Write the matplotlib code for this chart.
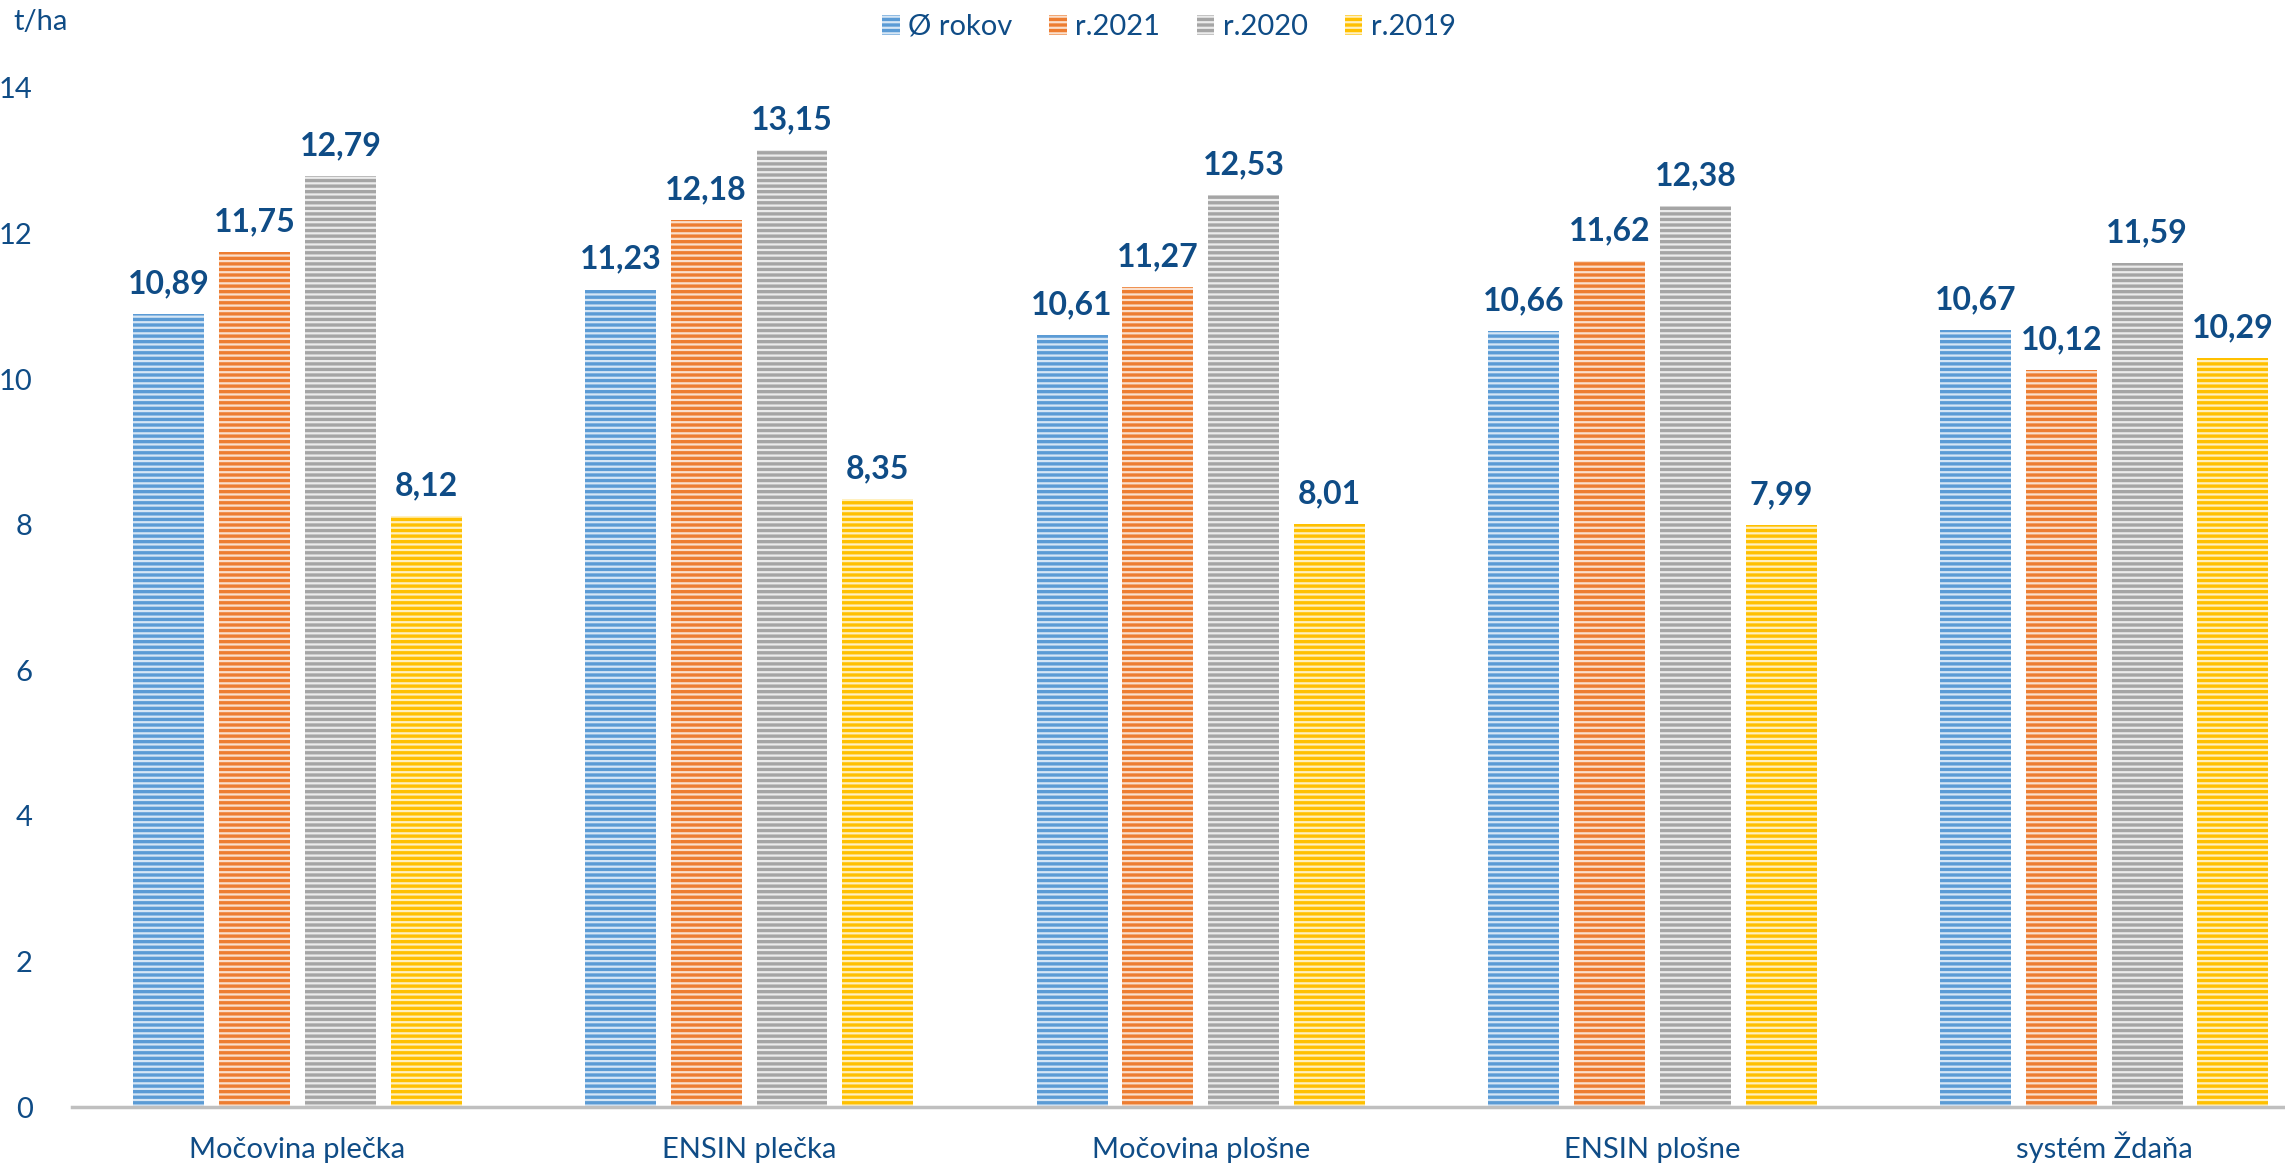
import numpy as np
import matplotlib.pyplot as plt

plt.rcParams['font.family'] = ['Lato', 'DejaVu Sans']
plt.rcParams['hatch.linewidth'] = 2.4

categories = ['Močovina plečka', 'ENSIN plečka', 'Močovina plošne', 'ENSIN plošne', 'systém Ždaňa']
series_names = ['Ø rokov', 'r.2021', 'r.2020', 'r.2019']
avg_years = [10.89, 11.23, 10.61, 10.66, 10.67]
y2021 = [11.75, 12.18, 11.27, 11.62, 10.12]
y2020 = [12.79, 13.15, 12.53, 12.38, 11.59]
y2019 = [8.12, 8.35, 8.01, 7.99, 10.29]
yticks = [0, 2, 4, 6, 8, 10, 12, 14]

colors = ['#5B9BD5', '#ED7D31', '#A5A5A5', '#FFC000']
lights = ['#D6E6F5', '#FADFCC', '#EBEBEB', '#FFF0BF']
txt = '#0F4C86'

fig = plt.figure(figsize=(22.85, 11.65), dpi=100)
ax = fig.add_axes([71.6 / 2285, 58 / 1165, (2285 - 71.6) / 2285, (1107 - 88) / 1165])

x = np.arange(len(categories))
width = 0.157
pitch = 0.19
data = [avg_years, y2021, y2020, y2019]
handles = []
for i, vals in enumerate(data):
    pos = x + (i - 1.5) * pitch
    bars = ax.bar(pos, vals, width, color=lights[i], edgecolor=colors[i],
                  linewidth=0, hatch='---', label=series_names[i])
    handles.append(bars)
    for b, v in zip(bars, vals):
        ax.annotate(f'{v:.2f}'.replace('.', ','), (b.get_x() + b.get_width() / 2, v),
                    xytext=(0, 15), textcoords='offset points',
                    ha='center', va='baseline', fontsize=23, fontweight='bold', color=txt)

ax.set_ylim(0, 14)
ax.set_xlim(-0.5, 4.5 - (2330 - 2285) / 451.75)
ax.set_yticks(yticks)
ax.set_xticks(x)
ax.set_xticklabels(categories)
ax.tick_params(axis='y', length=0, pad=28, labelsize=21, labelcolor=txt)
ax.tick_params(axis='x', length=0, pad=37, labelsize=21, labelcolor=txt)
for lab in ax.get_xticklabels():
    lab.set_verticalalignment('baseline')
for s in ['top', 'right', 'left']:
    ax.spines[s].set_visible(False)
ax.spines['bottom'].set_color('#BFBFBF')
ax.spines['bottom'].set_linewidth(2.5)

fig.text(13 / 2285, 1 - 22 / 1165, 't/ha', fontsize=21, color=txt, va='center', ha='left')

leg = fig.legend(handles=handles, loc='center', bbox_to_anchor=(1169 / 2285, 1 - 27 / 1165),
                 ncol=4, frameon=False, fontsize=21, handlelength=0.6, handleheight=0.7,
                 handletextpad=0.3, columnspacing=1.25)
for t in leg.get_texts():
    t.set_color(txt)

fig.savefig('out.png', dpi=100)
